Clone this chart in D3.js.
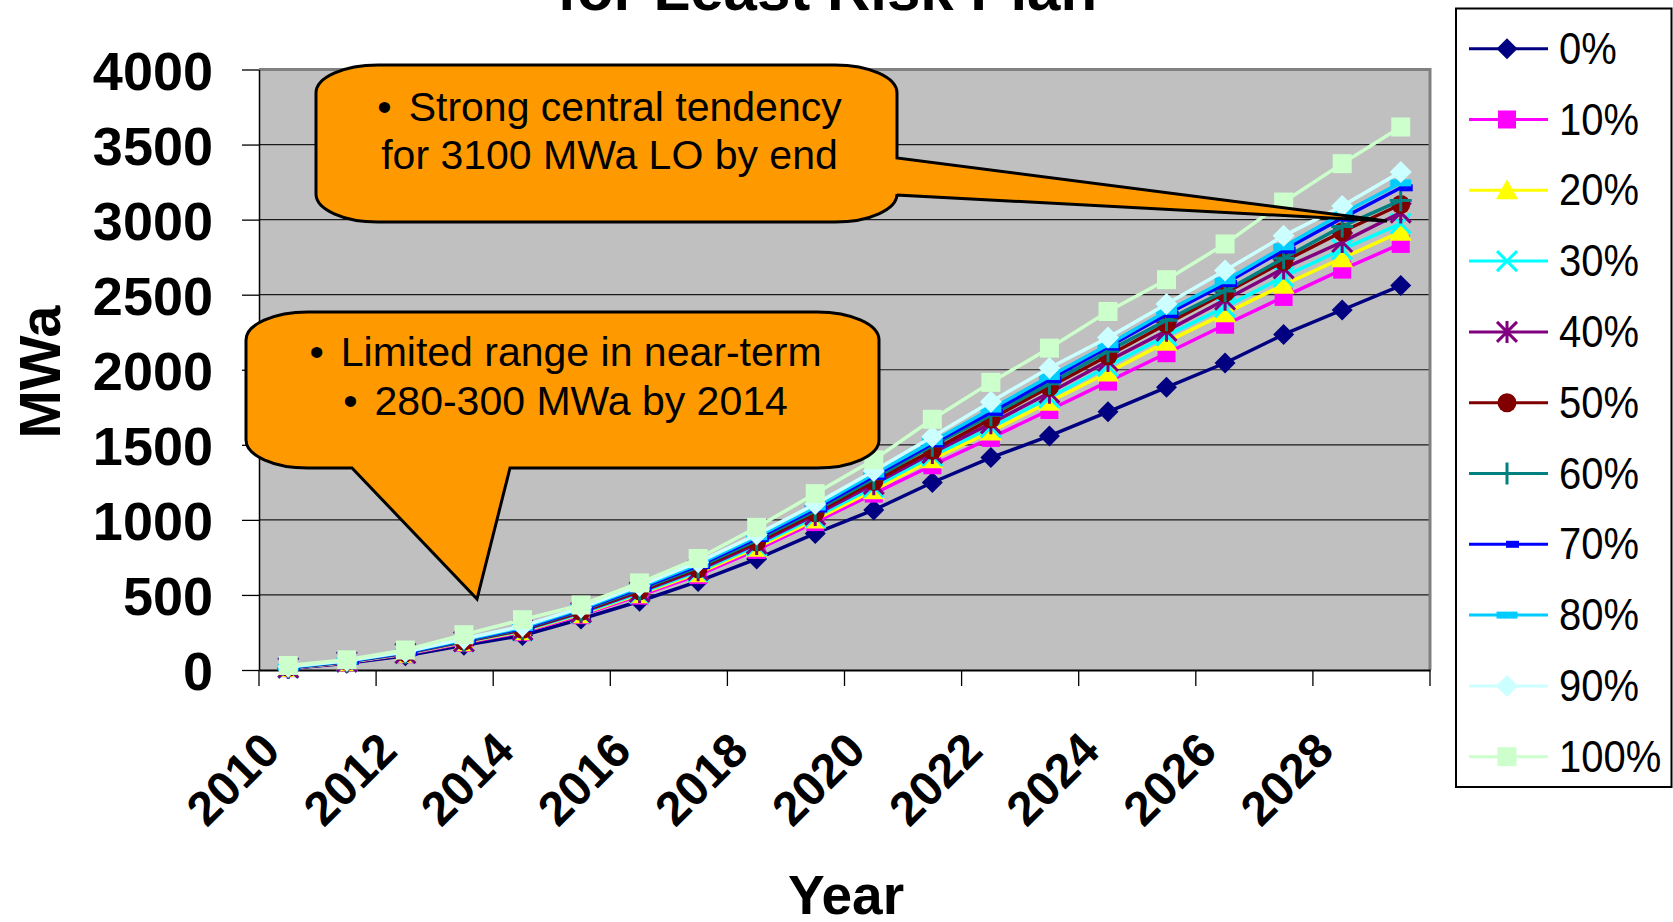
<!DOCTYPE html>
<html>
<head>
<meta charset="utf-8">
<script src="https://cdn.jsdelivr.net/npm/d3@7/dist/d3.min.js"></script>
<style>
  html, body { margin: 0; padding: 0; background: #fff; overflow: hidden; }
  svg { display: block; font-family: "Liberation Sans", Arial, sans-serif; }
</style>
</head>
<body>
<svg id="chart" width="1673" height="922"></svg>
<script>
// Categories: forecast years
const years = [2010, 2011, 2012, 2013, 2014, 2015, 2016, 2017, 2018, 2019,
               2020, 2021, 2022, 2023, 2024, 2025, 2026, 2027, 2028, 2029];

// Cumulative lost-opportunity MWa by percentile
const pct0   = [10, 45, 95, 165, 230, 340, 458, 590, 740, 910, 1066, 1249, 1415, 1559, 1720, 1883, 2045, 2235, 2398, 2561];
const pct10  = [12, 50, 105, 180, 252, 365, 495, 632, 800, 985, 1175, 1364, 1546, 1732, 1921, 2110, 2300, 2485, 2667, 2838];
const pct20  = [13, 52, 108, 185, 258, 372, 505, 645, 815, 1002, 1198, 1404, 1589, 1787, 1982, 2186, 2376, 2566, 2743, 2919];
const pct30  = [14, 54, 110, 188, 262, 378, 512, 655, 828, 1018, 1218, 1426, 1616, 1814, 2023, 2227, 2417, 2620, 2802, 2974];
const pct40  = [15, 55, 112, 190, 266, 384, 520, 665, 840, 1033, 1238, 1445, 1643, 1847, 2058, 2259, 2466, 2675, 2851, 3047];
const pct50  = [16, 56, 114, 193, 270, 390, 528, 675, 852, 1047, 1256, 1462, 1672, 1885, 2093, 2305, 2512, 2721, 2919, 3101];
const pct60  = [17, 57, 115, 195, 274, 396, 536, 685, 864, 1060, 1274, 1494, 1697, 1906, 2124, 2330, 2525, 2743, 2955, 3128];
const pct70  = [18, 58, 117, 198, 278, 402, 544, 695, 876, 1073, 1290, 1507, 1716, 1933, 2151, 2368, 2574, 2797, 3009, 3212];
const pct80  = [19, 60, 119, 202, 284, 408, 552, 705, 888, 1086, 1305, 1521, 1738, 1955, 2167, 2390, 2593, 2819, 3041, 3245];
const pct90  = [22, 62, 122, 208, 292, 416, 562, 718, 902, 1105, 1325, 1553, 1787, 2012, 2214, 2438, 2661, 2892, 3090, 3318];
const pct100 = [30, 68, 133, 235, 335, 433, 580, 743, 950, 1175, 1400, 1670, 1916, 2144, 2388, 2600, 2838, 3117, 3373, 3617];

const seriesNames = ["0%", "10%", "20%", "30%", "40%", "50%", "60%", "70%", "80%", "90%", "100%"];
const yTicks = [0, 500, 1000, 1500, 2000, 2500, 3000, 3500, 4000];
const xLabelYears = [2010, 2012, 2014, 2016, 2018, 2020, 2022, 2024, 2026, 2028];

const titleText = "for Least Risk Plan";
const yTitle = "MWa";
const xTitle = "Year";
const callout1Lines = [{bullet: true, text: "Strong central tendency"}, {bullet: false, text: "for 3100 MWa LO by end"}];
const callout2Lines = [{bullet: true, text: "Limited range in near-term"}, {bullet: true, text: "280-300 MWa by 2014"}];

// Styling per series
const seriesColors = ["#000080", "#FF00FF", "#FFFF00", "#00FFFF", "#800080", "#800000",
                      "#008080", "#0000FF", "#00CCFF", "#CCFFFF", "#CCFFCC"];
const seriesMarkers = ["diamond", "square", "triangle", "x", "star", "circle",
                       "plus", "shortdash", "longdash", "diamondL", "squareL"];

const seriesValues = [pct0, pct10, pct20, pct30, pct40, pct50, pct60, pct70, pct80, pct90, pct100];
const series = seriesNames.map((name, i) => ({
  name, color: seriesColors[i], marker: seriesMarkers[i],
  values: years.map((yr, j) => ({year: yr, value: seriesValues[i][j]}))
}));

const svg = d3.select("#chart");
const plot = {left: 259, right: 1430, top: 69.5, bottom: 670};

const x = d3.scaleBand().domain(years).range([plot.left, plot.right]).padding(0);
const y = d3.scaleLinear().domain([0, 4000]).range([plot.bottom, plot.top]);
const cx = d => x(d) + x.bandwidth() / 2;

// Title (second line of a two-line title; first line sits above the frame)
svg.append("text")
  .attr("x", 827).attr("y", 10)
  .attr("text-anchor", "middle")
  .attr("font-size", 60).attr("font-weight", "bold")
  .text(titleText);

// Plot background
svg.append("rect")
  .attr("x", plot.left).attr("y", plot.top)
  .attr("width", plot.right - plot.left).attr("height", plot.bottom - plot.top)
  .attr("fill", "#C0C0C0");

// Gridlines
svg.append("g").selectAll("line").data(yTicks.filter(v => v > 0 && v < 4000)).join("line")
  .attr("x1", plot.left).attr("x2", plot.right)
  .attr("y1", d => y(d)).attr("y2", d => y(d))
  .attr("stroke", "#1a1a1a").attr("stroke-width", 1.2);

// Plot frame (top and right)
svg.append("path")
  .attr("d", `M${plot.left},${plot.top}H${plot.right}V${plot.bottom}`)
  .attr("fill", "none").attr("stroke", "#808080").attr("stroke-width", 3);

// Y axis
const yAxis = svg.append("g")
  .attr("transform", `translate(${plot.left},0)`)
  .call(d3.axisLeft(y).tickValues(yTicks).tickFormat(d3.format("d"))
        .tickSize(17).tickPadding(29).tickSizeOuter(0));
yAxis.select(".domain").attr("stroke", "#000").attr("stroke-width", 1.5);
yAxis.selectAll(".tick line").attr("stroke", "#000").attr("stroke-width", 1.3);
yAxis.selectAll(".tick text")
  .attr("font-size", 54).attr("font-weight", "bold")
  .attr("font-family", "'Liberation Sans', Arial, sans-serif")
  .attr("fill", "#000").attr("dy", "0.37em");

// X axis: labels at category centres, tick marks at every second category boundary
const xAxis = svg.append("g")
  .attr("transform", `translate(0,${plot.bottom})`)
  .call(d3.axisBottom(x).tickValues(xLabelYears).tickSize(0).tickSizeOuter(0));
xAxis.select(".domain").attr("stroke", "#000").attr("stroke-width", 2);
xAxis.selectAll(".tick text")
  .attr("font-size", 48).attr("font-weight", "bold")
  .attr("font-family", "'Liberation Sans', Arial, sans-serif")
  .attr("fill", "#000")
  .attr("text-anchor", "end")
  .attr("x", null).attr("y", null).attr("dy", null)
  .attr("transform", "translate(-6,83) rotate(-45)");

const boundaryYears = years.filter((d, i) => i % 2 === 0);
xAxis.append("g").selectAll("line").data(boundaryYears.concat(["end"])).join("line")
  .attr("x1", d => d === "end" ? plot.right : x(d))
  .attr("x2", d => d === "end" ? plot.right : x(d))
  .attr("y1", 0).attr("y2", 16)
  .attr("stroke", "#000").attr("stroke-width", 1.3);

// Axis titles
svg.append("text")
  .attr("transform", "translate(60,372) rotate(-90)")
  .attr("text-anchor", "middle")
  .attr("font-size", 58).attr("font-weight", "bold")
  .text(yTitle);
svg.append("text")
  .attr("x", 846).attr("y", 914)
  .attr("text-anchor", "middle")
  .attr("font-size", 55).attr("font-weight", "bold")
  .text(xTitle);

// Marker shapes
function drawMarker(g, type, color) {
  switch (type) {
    case "diamond":
      g.append("path").attr("d", "M0,-10.5L10.5,0L0,10.5L-10.5,0Z").attr("fill", color); break;
    case "diamondL":
      g.append("path").attr("d", "M0,-11L11,0L0,11L-11,0Z").attr("fill", color); break;
    case "square":
      g.append("rect").attr("x", -9).attr("y", -9).attr("width", 18).attr("height", 18).attr("fill", color); break;
    case "squareL":
      g.append("rect").attr("x", -9.5).attr("y", -9.5).attr("width", 19).attr("height", 19).attr("fill", color); break;
    case "triangle":
      g.append("path").attr("d", "M0,-11L11,9L-11,9Z").attr("fill", color); break;
    case "circle":
      g.append("circle").attr("r", 9.5).attr("fill", color); break;
    case "x":
      g.append("path").attr("d", "M-10,-10L10,10M-10,10L10,-10").attr("stroke", color).attr("stroke-width", 3).attr("fill", "none"); break;
    case "star":
      g.append("path").attr("d", "M-10,-10L10,10M-10,10L10,-10M0,-11V11").attr("stroke", color).attr("stroke-width", 3).attr("fill", "none"); break;
    case "plus":
      g.append("path").attr("d", "M-11,0H11M0,-11V11").attr("stroke", color).attr("stroke-width", 3).attr("fill", "none"); break;
    case "shortdash":
      g.append("rect").attr("x", -1).attr("y", -3.5).attr("width", 13).attr("height", 7).attr("fill", color); break;
    case "longdash":
      g.append("rect").attr("x", -10.5).attr("y", -3.5).attr("width", 21).attr("height", 7).attr("fill", color); break;
  }
}

// Series lines and markers
const line = d3.line().x(d => cx(d.year)).y(d => y(d.value));
const seriesG = svg.append("g");
series.forEach(s => {
  const g = seriesG.append("g");
  g.append("path").datum(s.values)
    .attr("d", line).attr("fill", "none")
    .attr("stroke", s.color).attr("stroke-width", 3.5).attr("stroke-linejoin", "round");
  g.selectAll("g.m").data(s.values).join("g").attr("class", "m")
    .attr("transform", d => `translate(${cx(d.year)},${y(d.value)})`)
    .each(function() { drawMarker(d3.select(this), s.marker, s.color); });
});

// Callout shapes
function roundedPath(x0, y0, x1, y1, rx, ry, pointer) {
  let p = `M${x0 + rx},${y0}H${x1 - rx}A${rx},${ry} 0 0 1 ${x1},${y0 + ry}`;
  if (pointer.side === "right") {
    p += `V${pointer.a}L${pointer.tx},${pointer.ty}L${x1},${pointer.b}`;
  }
  p += `V${y1 - ry}A${rx},${ry} 0 0 1 ${x1 - rx},${y1}`;
  if (pointer.side === "bottom") {
    p += `H${pointer.b}L${pointer.tx},${pointer.ty}L${pointer.a},${y1}`;
  }
  p += `H${x0 + rx}A${rx},${ry} 0 0 1 ${x0},${y1 - ry}V${y0 + ry}A${rx},${ry} 0 0 1 ${x0 + rx},${y0}Z`;
  return p;
}

function callout(box, pointer, lines, baselines) {
  const g = svg.append("g");
  g.append("path")
    .attr("d", roundedPath(box.x0, box.y0, box.x1, box.y1, 62, 28, pointer))
    .attr("fill", "#FF9900").attr("stroke", "#000").attr("stroke-width", 3)
    .attr("stroke-linejoin", "miter");
  const mid = (box.x0 + box.x1) / 2 + 3;
  lines.forEach((ln, i) => {
    const t = g.append("text")
      .attr("x", mid).attr("y", baselines[i])
      .attr("text-anchor", "middle").attr("font-size", 41).attr("fill", "#000");
    if (ln.bullet) {
      t.append("tspan").text("\u2022");
      t.append("tspan").attr("dx", 17).text(ln.text);
    } else {
      t.text(ln.text);
    }
  });
}

callout({x0: 316, y0: 65, x1: 897, y1: 222},
        {side: "right", a: 158, b: 195, tx: 1387, ty: 221},
        callout1Lines, [121, 169]);
callout({x0: 246, y0: 312, x1: 879, y1: 468},
        {side: "bottom", a: 352, b: 510, tx: 477, ty: 599},
        callout2Lines, [366, 415]);

// Legend
const legend = svg.append("g");
legend.append("rect")
  .attr("x", 1456).attr("y", 8.5).attr("width", 215.5).attr("height", 778.5)
  .attr("fill", "#fff").attr("stroke", "#000").attr("stroke-width", 2);
series.forEach((s, i) => {
  const ly = 48.7 + i * 70.8;
  const item = legend.append("g");
  item.append("line")
    .attr("x1", 1469).attr("x2", 1548).attr("y1", ly).attr("y2", ly)
    .attr("stroke", s.color).attr("stroke-width", 3);
  drawMarker(item.append("g").attr("transform", `translate(1507,${ly})`), s.marker, s.color);
  item.append("text")
    .attr("transform", `translate(1559,${ly + 15}) scale(1,1.12)`)
    .attr("font-size", 40).attr("fill", "#000")
    .text(s.name);
});
</script>
</body>
</html>
